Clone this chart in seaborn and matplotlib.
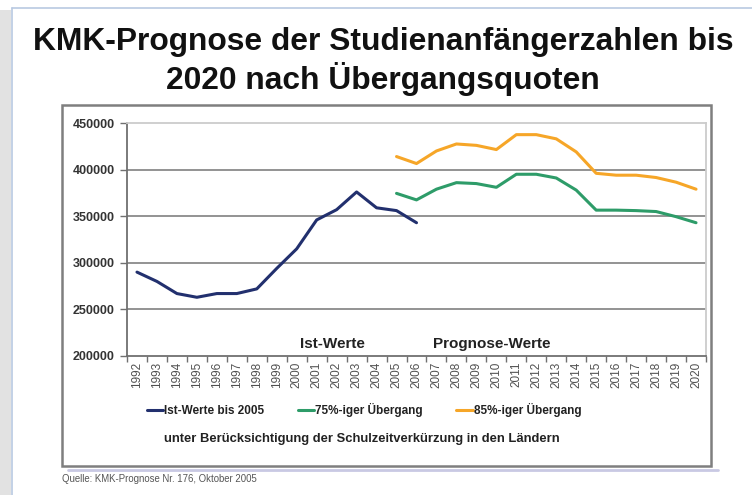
import seaborn as sns
import matplotlib.pyplot as plt
import pandas as pd
from matplotlib.patches import Rectangle
from matplotlib.lines import Line2D
from matplotlib.ticker import MultipleLocator

# Werte
jahre = list(range(1992, 2021))
jahre_ist = list(range(1992, 2007))
ist_werte = [290000, 280000, 267000, 263000, 267000, 267000, 272000, 294000,
             315000, 346000, 357000, 376000, 359000, 356000, 343000]
jahre_prognose = list(range(2005, 2021))
quote_75 = [374500, 367500, 379000, 386000, 385000, 381000, 395000, 395000,
            391000, 378000, 356500, 356500, 356000, 355000, 349500, 343000]
quote_85 = [414000, 406500, 420000, 427500, 426000, 421500, 437500, 437500,
            433000, 419000, 396000, 394000, 394000, 391500, 386500, 379000]
y_ticks = [200000, 250000, 300000, 350000, 400000, 450000]
legende = ["Ist-Werte bis 2005", "75%-iger Übergang", "85%-iger Übergang"]

df_ist = pd.DataFrame({"jahr": jahre_ist, "wert": ist_werte})
df_75 = pd.DataFrame({"jahr": jahre_prognose, "wert": quote_75})
df_85 = pd.DataFrame({"jahr": jahre_prognose, "wert": quote_85})

sns.set_style("white")
plt.rcParams['font.family'] = ['Liberation Sans', 'DejaVu Sans']

W, H = 752, 495
fig = plt.figure(figsize=(W / 100, H / 100), dpi=100)
fig.patch.set_facecolor("white")


def fx(x):
    return x / W


def fy(y):
    return 1 - y / H


# Folienrahmen
fig.patches.append(Rectangle((0, 0), fx(11), fy(10), transform=fig.transFigure,
                             facecolor="#e2e2e2", edgecolor="none"))
fig.lines.append(Line2D([fx(12), fx(12)], [fy(8), 0], transform=fig.transFigure,
                        color="#b9c9e2", lw=1.2))
fig.lines.append(Line2D([fx(12), 1], [fy(8), fy(8)], transform=fig.transFigure,
                        color="#b9c9e2", lw=1.2))

# Diagrammkasten
fig.lines.append(Line2D([fx(68), fx(718)], [fy(469.5), fy(469.5)], transform=fig.transFigure,
                        color="#c9c9e3", lw=2))
fig.patches.append(Rectangle((fx(62), fy(466)), fx(649), fy(105) - fy(466),
                             transform=fig.transFigure, facecolor="none",
                             edgecolor="#7f7f7f", lw=1.8))

fig.text(fx(383), fy(42), "KMK-Prognose der Studienanfängerzahlen bis",
         ha="center", va="center", fontsize=22.9, fontweight="bold", color="#111111")
fig.text(fx(383), fy(79), "2020 nach Übergangsquoten",
         ha="center", va="center", fontsize=22.9, fontweight="bold", color="#111111")

ax = fig.add_axes([fx(127), fy(356), fx(706) - fx(127), fy(123) - fy(356)])

sns.lineplot(data=df_ist, x="jahr", y="wert", color="#22306e", lw=2.2, ax=ax, label=legende[0])
sns.lineplot(data=df_75, x="jahr", y="wert", color="#2e9c69", lw=2.2, ax=ax, label=legende[1])
sns.lineplot(data=df_85, x="jahr", y="wert", color="#f6a628", lw=2.2, ax=ax, label=legende[2])

ax.set_xlim(1991.5, 2020.5)
ax.set_ylim(200000, 450000)
ax.set_xticks(jahre)
ax.set_xticklabels([str(j) for j in jahre], rotation=90, fontsize=8.5, color="#505050")
ax.xaxis.set_minor_locator(MultipleLocator(1, offset=0.5))
ax.set_yticks(y_ticks)
ax.set_yticklabels([str(v) for v in y_ticks], fontsize=9, fontweight="bold", color="#333333")
ax.tick_params(axis="x", which="major", length=0, pad=4)
ax.tick_params(axis="x", which="minor", length=4, width=1, color="#707070", direction="out", bottom=True)
ax.tick_params(axis="y", length=5, width=1, color="#707070", direction="out", left=True, pad=4)
for v in y_ticks[1:-1]:
    ax.axhline(v, color="#8a8a8a", lw=1.3, zorder=0)
ax.set_xlabel("")
ax.set_ylabel("")

ax.spines["left"].set_color("#707070")
ax.spines["left"].set_linewidth(1.3)
ax.spines["bottom"].set_color("#707070")
ax.spines["bottom"].set_linewidth(1.3)
for s in ["top", "right"]:
    ax.spines[s].set_color("#cccccc")
    ax.spines[s].set_linewidth(1.3)

ax.text(2001.8, 213000, "Ist-Werte", ha="center", va="center",
        fontsize=11, fontweight="bold", color="#222222")
ax.text(2009.75, 213000, "Prognose-Werte", ha="center", va="center",
        fontsize=11, fontweight="bold", color="#222222")

handles, labels = ax.get_legend_handles_labels()
ax.get_legend().remove()
fig.legend(handles, labels, loc="center", bbox_to_anchor=(fx(364), fy(410)), ncol=3,
           frameon=False, handlelength=1.4, handletextpad=0.1, columnspacing=2.8,
           prop={"size": 8.5, "weight": "bold"}, labelcolor="#222222")

fig.text(fx(362), fy(439), "unter Berücksichtigung der Schulzeitverkürzung in den Ländern",
         ha="center", va="center", fontsize=9.4, fontweight="bold", color="#222222")
fig.text(fx(62), fy(479), "Quelle: KMK-Prognose Nr. 176, Oktober 2005",
         ha="left", va="center", fontsize=6.9, color="#555555")

fig.savefig("out.png", dpi=100)
